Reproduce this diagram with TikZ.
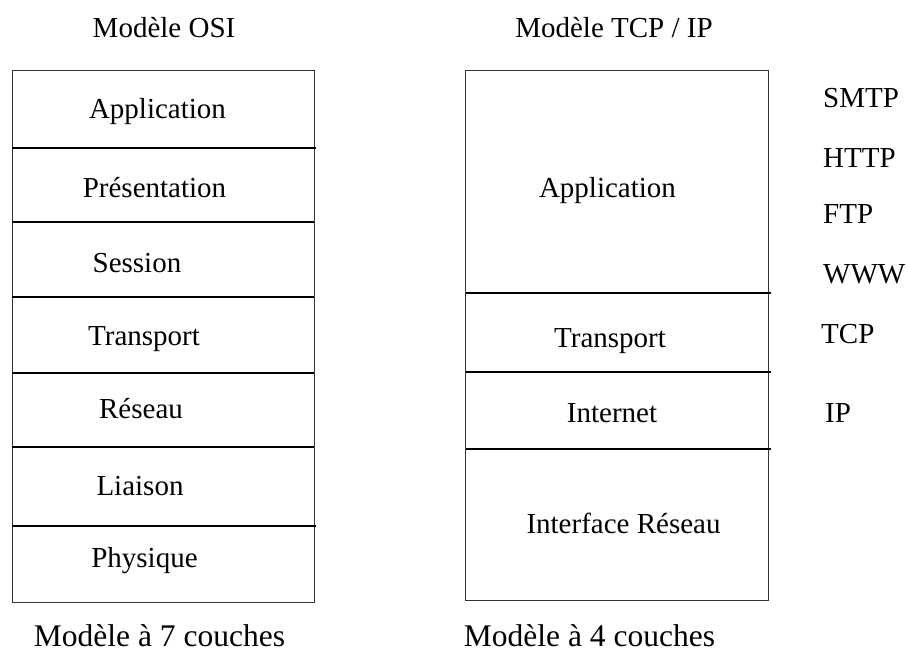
\documentclass[tikz,border=0pt]{standalone}
\usepackage{fontspec}
\setmainfont{Liberation Serif}
\begin{document}
\begin{tikzpicture}[x=1pt,y=-1pt,
  lbl/.style={anchor=base,inner sep=0pt,font=\fontsize{29}{32}\selectfont},
  side/.style={anchor=base west,inner sep=0pt,font=\fontsize{29}{32}\selectfont},
  captxt/.style={anchor=base,inner sep=0pt,font=\fontsize{31.5}{34}\selectfont},
  frame/.style={draw=black!80,line width=0.9pt},
  sep/.style={draw=black,line width=1.4pt}]
\useasboundingbox (0,0) rectangle (908,653);
% OSI box
\draw[frame] (12,70) rectangle (314,602);
\draw[sep] (12,148) -- (316,148);
\draw[sep] (12,222) -- (314,222);
\draw[sep] (12,297) -- (314,297);
\draw[sep] (12,373) -- (314,373);
\draw[sep] (12,447) -- (314,447);
\draw[sep] (12,526) -- (316,526);
% TCP/IP box
\draw[frame] (465,70) rectangle (768,600);
\draw[sep] (466,293) -- (771,293);
\draw[sep] (466,372) -- (771,372);
\draw[sep] (466,449) -- (771,449);
% titles
\node[lbl] (t1) at (164,37) {Modèle OSI};
\node[lbl] (t2) at (614,37) {Modèle TCP / IP};
% OSI layers
\node[lbl] (o1) at (157.5,118) {Application};
\node[lbl] (o2) at (154.5,197) {Présentation};
\node[lbl] (o3) at (137,272) {Session};
\node[lbl] (o4) at (144,345) {Transport};
\node[lbl] (o5) at (141,418) {Réseau};
\node[lbl] (o6) at (140,495) {Liaison};
\node[lbl] (o7) at (144.5,567) {Physique};
% TCP/IP layers
\node[lbl] (p1) at (607.5,197) {Application};
\node[lbl] (p2) at (610,347) {Transport};
\node[lbl] (p3) at (612,422) {Internet};
\node[lbl] (p4) at (623.5,533) {Interface Réseau};
% protocols
\node[side] (s1) at (823,107) {SMTP};
\node[side] (s2) at (823,167) {HTTP};
\node[side] (s3) at (823,223) {FTP};
\node[side] (s4) at (823,283) {WWW};
\node[side] (s5) at (821,343) {TCP};
\node[side] (s6) at (825,422) {IP};
% captions
\node[captxt] (c1) at (159.5,646) {Modèle à 7 couches};
\node[captxt] (c2) at (589.5,646) {Modèle à 4 couches};
\end{tikzpicture}
\end{document}
